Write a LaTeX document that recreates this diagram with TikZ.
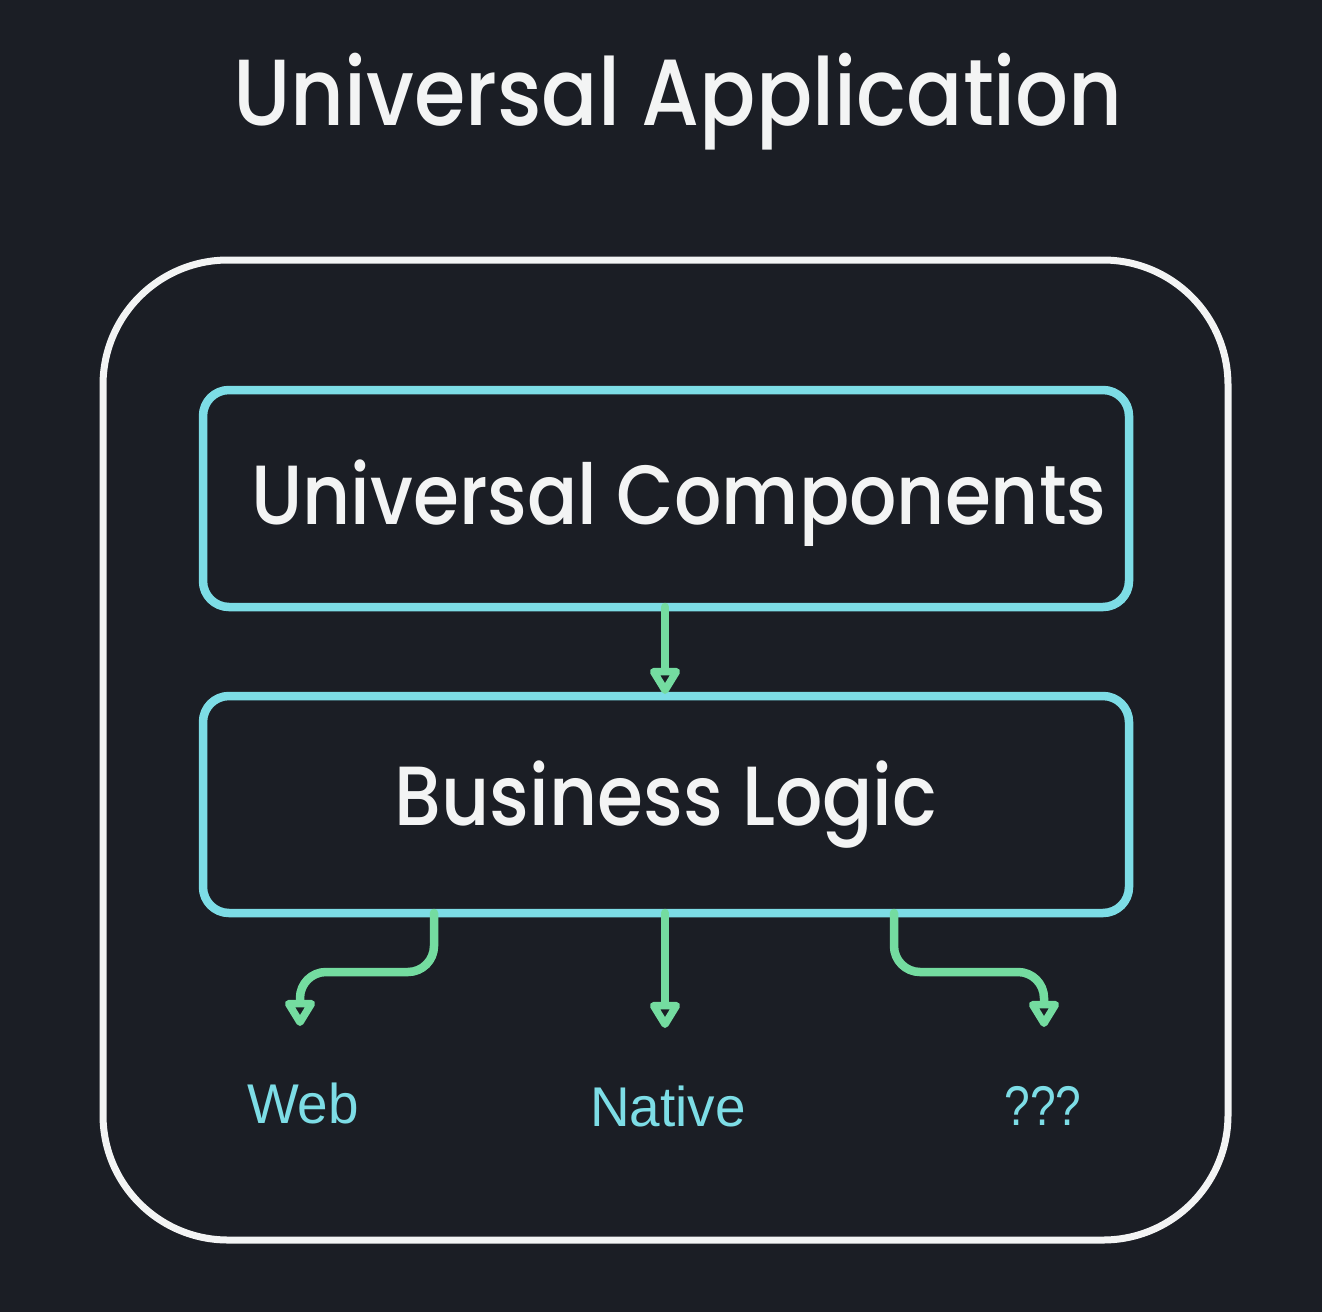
\documentclass[tikz,border=0pt]{standalone}
\usepackage{fontspec}
\setmainfont{Poppins Medium}
\newfontfamily\labelfont{Liberation Sans}
\usetikzlibrary{arrows.meta}
\definecolor{bg}{HTML}{1B1E25}
\definecolor{chalk}{HTML}{F3F4F4}
\definecolor{cyanline}{HTML}{7DDDE6}
\definecolor{greenline}{HTML}{74DCA0}
\tikzset{
  outerbox/.style={draw=chalk, line width=7pt, rounded corners=125pt},
  layerbox/.style={draw=cyanline, line width=8.5pt, rounded corners=26pt},
  flow/.style={draw=greenline, line width=8.5pt, rounded corners=26pt, line cap=round,
    -{Triangle[open, width=34pt, length=30pt, line width=8pt, round]}},
  boxtext/.style={text=chalk, font=\fontsize{84}{90}\selectfont, xscale=0.885},
  outlabel/.style={text=cyanline, font=\labelfont\fontsize{56}{60}\selectfont, xscale=0.98},
}
\begin{document}
\begin{tikzpicture}[x=1pt, y=-1pt]
\fill[bg] (0,0) rectangle (1322,1312);
\useasboundingbox (0,0) rectangle (1322,1312);
\node[text=chalk, font=\fontsize{94}{100}\selectfont, xscale=0.885] (title) at (678,102) {Universal Application};
\draw[outerbox] (103,260) rectangle (1228,1240);
\draw[layerbox] (203,390) rectangle (1129,607);
\draw[layerbox] (203,696) rectangle (1129,913);
\node[boxtext] (uc) at (679,503) {Universal Components};
\node[boxtext] (bl) at (666,805) {Business Logic};
\coordinate (ucb) at (665,607);
\coordinate (blt) at (665,694);
\coordinate (b1) at (434,913);
\coordinate (b2) at (665,913);
\coordinate (b3) at (894,913);
\coordinate (web) at (300,1026);
\coordinate (nat) at (665,1028);
\coordinate (qqq) at (1044,1027);
\draw[flow] (ucb) -- (blt);
\draw[flow] (b1) |- (367,972) -| (web);
\draw[flow] (b2) -- (nat);
\draw[flow] (b3) |- (969,972) -| (qqq);
\node[outlabel] (lweb) at (303,1103) {Web};
\node[outlabel] (lnat) at (668,1106) {Native};
\node[outlabel, xscale=0.84] (lq) at (1043,1106) {???};
\end{tikzpicture}
\end{document}
